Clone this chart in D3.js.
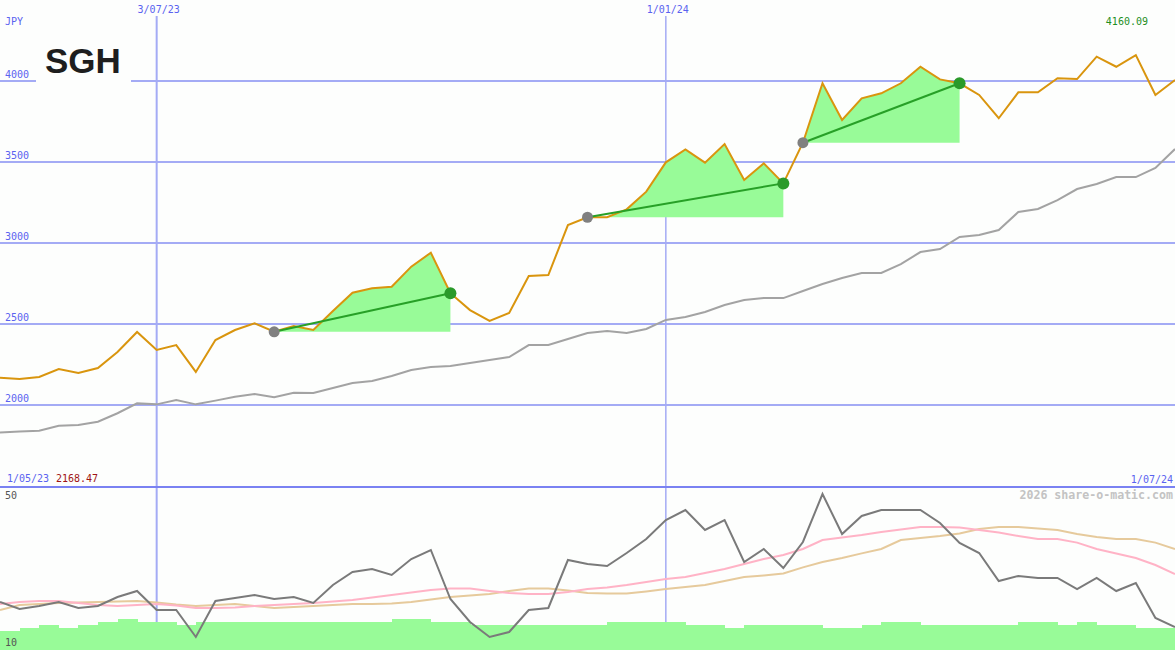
<!DOCTYPE html>
<html><head><meta charset="utf-8">
<script src="https://cdn.jsdelivr.net/npm/d3@7"></script>
<style>body{margin:0;background:#fdfefd;} svg{display:block;}</style>
</head><body><svg id="c" width="1175" height="650"></svg>
<script>
const dates = ["2023-05-08","2023-05-15","2023-05-22","2023-05-29","2023-06-05","2023-06-12","2023-06-19","2023-06-26",
"2023-07-03","2023-07-10","2023-07-17","2023-07-24","2023-07-31","2023-08-07","2023-08-14","2023-08-21","2023-08-28",
"2023-09-04","2023-09-11","2023-09-18","2023-09-25","2023-10-02","2023-10-09","2023-10-16","2023-10-23","2023-10-30",
"2023-11-06","2023-11-13","2023-11-20","2023-11-27","2023-12-04","2023-12-11","2023-12-18","2023-12-25","2024-01-01",
"2024-01-08","2024-01-15","2024-01-22","2024-01-29","2024-02-05","2024-02-12","2024-02-19","2024-02-26","2024-03-04",
"2024-03-11","2024-03-18","2024-03-25","2024-04-01","2024-04-08","2024-04-15","2024-04-22","2024-04-29","2024-05-06",
"2024-05-13","2024-05-20","2024-05-27","2024-06-03","2024-06-10","2024-06-17","2024-06-24","2024-07-01"];
const price = [2168.47,2160,2173,2222,2198,2228,2327,2451,2340,2370,
2204,2401,2463,2504,2452,2488,2463,2580,2693,2720,
2730,2854,2940,2690,2586,2519,2568,2796,2802,3111,
3159,3159,3208,3317,3498,3578,3496,3611,3389,3492,
3368,3619,3986,3759,3893,3924,3986,4088,4010,3986,
3914,3770,3930,3930,4017,4012,4150,4088,4160.09,3914,4006];
const movingAvg = [1831,1836,1841,1872,1877,1897,1949,2010,2004,2031,
2004,2027,2051,2068,2048,2076,2074,2105,2136,2148,
2179,2216,2235,2241,2259,2278,2296,2370,2370,2407,
2444,2457,2444,2469,2525,2543,2574,2617,2648,2660,
2660,2704,2747,2784,2815,2815,2870,2944,2963,3037,
3049,3080,3191,3210,3265,3333,3364,3407,3407,3463,3580];
const oscMain = [21.75,20,20.75,21.75,20.25,20.75,23,24.5,19.75,19.75,
13,22,22.75,23.5,22.5,23,21.5,26,29.25,30,
28.5,32.5,34.75,22.5,16.75,13,14.25,19.75,20.25,32.25,
31.25,30.75,34,37.5,42.25,44.75,39.75,42.25,31.75,35,
30.25,36.75,48.75,38.75,43.25,44.75,44.75,44.75,41.5,36.5,
34,27,28.25,27.75,27.75,25,27.75,24.5,26.5,17.75,15.5];
const oscPink = [21.25,21.75,22,22,21.5,21,20.75,21,21.25,20.9,
20.25,20.25,20.4,20.75,21,21.25,21.5,21.9,22.25,22.9,
23.5,24.1,24.75,25.1,25.1,24.5,24,23.75,23.75,24.25,
25,25.4,26,26.75,27.5,28,29,30,31.25,32.5,
33.5,35,37.25,37.9,38.5,39.25,39.9,40.5,40.5,40.4,
39.75,39.1,38.25,37.5,37.5,36.6,35,33.9,32.75,31,28.75];
const oscTan = [19.75,21,21.25,21.5,21.6,21.75,21.9,22,21.6,21.1,
20.75,21,21.25,20.75,20.25,20.5,20.75,21,21.25,21.25,
21.4,21.75,22.4,23,23.4,23.75,24.5,25.1,25.1,24.6,
24,23.9,23.9,24.4,25,25.5,26,27,28,28.4,
28.9,30.4,31.75,32.75,33.9,35,37.25,37.75,38.25,38.9,
40,40.5,40.5,40.1,39.75,38.75,38,37.5,37.5,36.6,35];
const volume = [0.95,1.09,1.23,1.09,1.23,1.38,1.53,1.38,1.38,1.23,
1.38,1.38,1.38,1.38,1.38,1.38,1.38,1.38,1.38,1.38,
1.53,1.53,1.38,1.38,1.23,1.23,1.23,1.23,1.23,1.23,
1.23,1.38,1.38,1.38,1.38,1.23,1.23,1.10,1.23,1.23,
1.23,1.23,1.09,1.09,1.23,1.38,1.38,1.23,1.23,1.23,
1.23,1.23,1.38,1.38,1.23,1.38,1.23,1.23,1.09,1.09,1.09];
const priceTicks = [2000,2500,3000,3500,4000];
const oscTicks = [50,10];
const dateMarks = ["2023-07-03","2024-01-01"];
const dateMarkLabels = ["3/07/23","1/01/24"];
const trendStarts = ["2023-08-14","2023-12-04","2024-02-19"];
const trendEnds = ["2023-10-16","2024-02-12","2024-04-15"];

const parse = d3.utcParse("%Y-%m-%d");
const D = dates.map(parse);
const W = 1175, H = 650;
const svg = d3.select("#c");
svg.append("rect").attr("width",W).attr("height",H).attr("fill","#fdfefd");

const x = d3.scaleUtc().domain([D[0], D[D.length-1]]).range([0, W]);
const y = d3.scaleLinear().domain([2000,4000]).range([405,81]);
const yo = d3.scaleLinear().domain([10,50]).range([649,489]);
const yv = d3.scaleLinear().domain([0,8]).range([650,488]);

const mono = "'DejaVu Sans Mono', monospace";
const gridC = "#a4abf5", labC = "#5a63f0";

// horizontal gridlines
svg.append("g").selectAll("line").data(priceTicks).join("line")
  .attr("x1",0).attr("x2",W).attr("y1",d=>y(d)).attr("y2",d=>y(d))
  .attr("stroke",gridC).attr("stroke-width",2);
// gap for logo
svg.append("rect").attr("x",36).attr("y",y(4000)-3).attr("width",95).attr("height",6).attr("fill","#fdfefd");
svg.append("g").selectAll("text").data(priceTicks).join("text")
  .attr("x",5).attr("y",d=>y(d)-3).text(d=>d)
  .attr("font-family",mono).attr("font-size",10).attr("fill",labC);

// vertical date lines
dateMarks.forEach((d,i)=>{
  const xx = x(parse(d));
  svg.append("line").attr("x1",xx).attr("x2",xx).attr("y1",16).attr("y2",H)
    .attr("stroke",gridC).attr("stroke-width", i===0?2:1.5);
  svg.append("text").attr("x",xx+2).attr("y",13).attr("text-anchor","middle")
    .attr("font-family",mono).attr("font-size",10).attr("fill",labC).text(dateMarkLabels[i]);
});

// separator
svg.append("line").attr("x1",0).attr("x2",W).attr("y1",487).attr("y2",487)
  .attr("stroke","#7a82f2").attr("stroke-width",2);

// moving average
const lineP = d3.line().x((d,i)=>x(D[i])).y(d=>y(d));
svg.append("path").datum(movingAvg).attr("d",lineP).attr("fill","none")
  .attr("stroke","#a3a3a3").attr("stroke-width",2);

// trend fills
trendStarts.forEach((s,k)=>{
  const i0 = dates.indexOf(s), i1 = dates.indexOf(trendEnds[k]);
  const base = price[i0];
  const idx = d3.range(i0, i1+1);
  const area = d3.area().x(i=>x(D[i])).y0(y(base)).y1(i=>y(price[i]));
  svg.append("path").datum(idx).attr("d",area).attr("fill","#98fb98");
});

// price line
svg.append("path").datum(price).attr("d",lineP).attr("fill","none")
  .attr("stroke","#d9950e").attr("stroke-width",2);

// trend lines + dots
trendStarts.forEach((s,k)=>{
  const i0 = dates.indexOf(s), i1 = dates.indexOf(trendEnds[k]);
  svg.append("line").attr("x1",x(D[i0])).attr("y1",y(price[i0]))
    .attr("x2",x(D[i1])).attr("y2",y(price[i1]))
    .attr("stroke","#27a027").attr("stroke-width",2);
  svg.append("circle").attr("cx",x(D[i0])).attr("cy",y(price[i0])).attr("r",5.5).attr("fill","#808080");
  svg.append("circle").attr("cx",x(D[i1])).attr("cy",y(price[i1])).attr("r",6).attr("fill","#2a9a2a");
});

// texts
svg.append("text").attr("x",5).attr("y",25).text("JPY")
  .attr("font-family",mono).attr("font-size",10).attr("fill",labC);
svg.append("text").attr("x",45).attr("y",73).text("SGH")
  .attr("font-family","'Liberation Sans', Arial, sans-serif").attr("font-weight","bold")
  .attr("font-size",35).attr("fill","#1e1e1e");
svg.append("text").attr("x",1148).attr("y",25).attr("text-anchor","end").text(d3.max(price).toFixed(2))
  .attr("font-family",mono).attr("font-size",10).attr("fill","#1f8f1f");
svg.append("text").attr("x",7).attr("y",482).text("1/05/23")
  .attr("font-family",mono).attr("font-size",10).attr("fill",labC);
svg.append("text").attr("x",56).attr("y",482).text(price[0].toFixed(2))
  .attr("font-family",mono).attr("font-size",10).attr("fill","#a01414");
svg.append("text").attr("x",1173).attr("y",483).attr("text-anchor","end").text("1/07/24")
  .attr("font-family",mono).attr("font-size",10).attr("fill",labC);
svg.append("text").attr("x",1173).attr("y",499).attr("text-anchor","end").text("2026 share-o-matic.com")
  .attr("font-family",mono).attr("font-weight","bold").attr("font-size",11.6).attr("fill","#c3c3c3");

// lower panel: volume
const step = x(D[1]) - x(D[0]);
svg.append("g").selectAll("rect").data(volume).join("rect")
  .attr("x",(d,i)=>x(D[i])).attr("width",step+0.5)
  .attr("y",d=>yv(d)).attr("height",d=>yv(0)-yv(d))
  .attr("fill","#98fb98").attr("shape-rendering","crispEdges");

const lineO = d3.line().x((d,i)=>x(D[i])).y(d=>yo(d));
svg.append("path").datum(oscTan).attr("d",lineO).attr("fill","none").attr("stroke","#e6ca9c").attr("stroke-width",2);
svg.append("path").datum(oscPink).attr("d",lineO).attr("fill","none").attr("stroke","#ffb3c6").attr("stroke-width",2);
svg.append("path").datum(oscMain).attr("d",lineO).attr("fill","none").attr("stroke","#7a7a7a").attr("stroke-width",2);

svg.append("g").selectAll("text").data(oscTicks).join("text")
  .attr("x",5).attr("y",(d,i)=> i===0 ? yo(d)+10 : yo(d)-3).text(d=>d)
  .attr("font-family",mono).attr("font-size",10).attr("fill","#555");
</script></body></html>
